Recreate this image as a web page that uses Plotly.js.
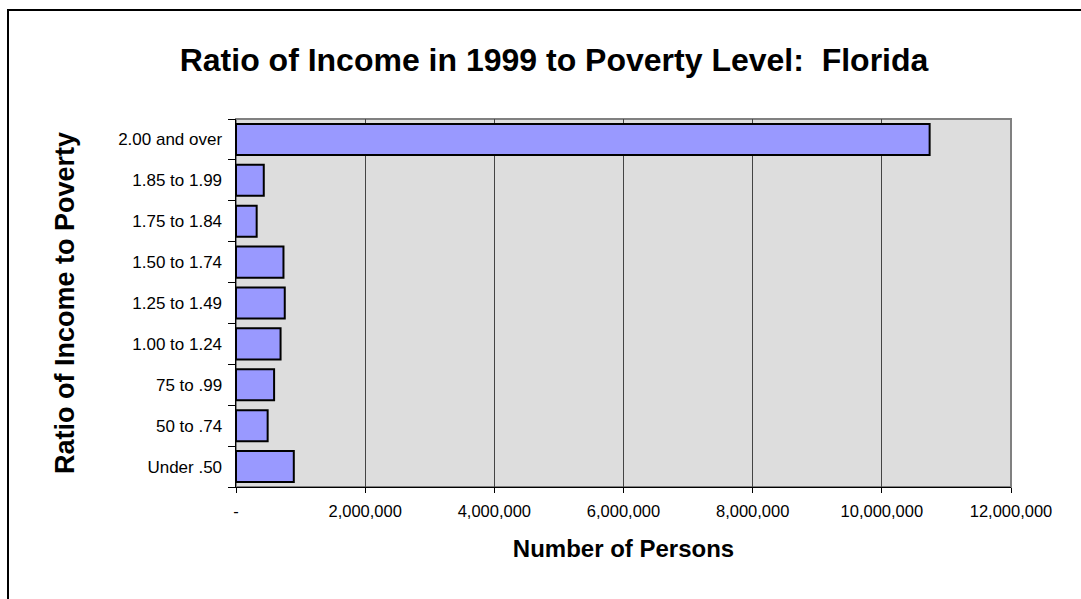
<!DOCTYPE html>
<html><head><meta charset="utf-8">
<script src="https://cdn.plot.ly/plotly-3.0.1.min.js"></script>
<style>
html,body{margin:0;padding:0;background:#fff;overflow:hidden;}
#frame{position:absolute;left:7px;top:9px;width:1200px;height:700px;border:2px solid #000;box-sizing:border-box;}
#chart{position:absolute;left:0;top:0;width:1081px;height:599px;}
</style></head>
<body>
<div id="frame"></div>
<div id="chart"></div>
<script>
const categories = ["Under .50","50 to .74","75 to .99","1.00 to 1.24","1.25 to 1.49","1.50 to 1.74","1.75 to 1.84","1.85 to 1.99","2.00 and over"];
const persons = [895000, 490000, 590000, 690000, 755000, 735000, 320000, 430000, 10740000];
const xTickVals = [0, 2000000, 4000000, 6000000, 8000000, 10000000, 12000000];
const xTickText = ["-", "2,000,000", "4,000,000", "6,000,000", "8,000,000", "10,000,000", "12,000,000"];

const trace = {
  type: "bar",
  orientation: "h",
  y: categories,
  x: persons,
  marker: {color: "#9999FF", line: {color: "#000000", width: 2}},
  hoverinfo: "x+y"
};

const layout = {
  width: 1081, height: 599,
  paper_bgcolor: "rgba(0,0,0,0)",
  plot_bgcolor: "#DDDDDD",
  font: {family: "Liberation Sans, Arial, sans-serif", color: "#000"},
  margin: {l: 236, r: 70, t: 119, b: 112},
  bargap: 0.24,
  showlegend: false,
  title: {text: "<b>Ratio of Income in 1999 to Poverty Level:  Florida</b>", font: {size: 32, color: "#000"}, x: 0.5125, xanchor: "center", y: 0.9, yanchor: "middle"},
  xaxis: {
    range: [0, 12000000],
    tickvals: xTickVals, ticktext: xTickText,
    tickfont: {size: 16.5, color: "#000"},
    showgrid: true, gridcolor: "#444444", gridwidth: 1,
    showline: true, linecolor: "#000", linewidth: 1,
    ticks: "outside", ticklen: 5, tickcolor: "#000",
    ticklabelstandoff: 4,
    zeroline: false,
    title: {text: "<b>Number of Persons</b>", font: {size: 24, color: "#000"}, standoff: 21}
  },
  yaxis: {
    type: "category",
    tickfont: {size: 17, color: "#000"},
    showline: true, linecolor: "#000", linewidth: 1.5,
    ticks: "outside", ticklen: 7, tickcolor: "#000", tickson: "boundaries",
    ticklabelstandoff: 9,
    showgrid: false,
    title: {text: "<b>Ratio of Income to Poverty</b>", font: {size: 27, color: "#000"}, standoff: 35}
  },
  shapes: [{type: "rect", xref: "paper", yref: "paper", x0: 0, x1: 1, y0: 0, y1: 1, line: {color: "#808080", width: 2}, layer: "below"}]
};

Plotly.newPlot("chart", [trace], layout, {displayModeBar: false, staticPlot: true});
</script>
</body></html>
